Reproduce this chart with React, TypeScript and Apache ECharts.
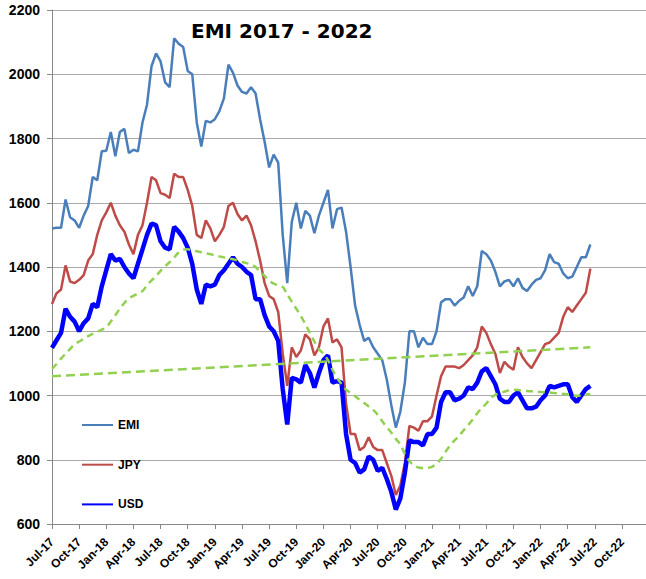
import React, { useEffect, useRef } from 'react';
import * as echarts from 'echarts';

// Sampling: one value every half month, starting July 2017
const START_YEAR = 2017;
const START_MONTH = 6; // 0-based (July)
const STEP_MONTHS = 0.5;
const monthNames = ['Jan', 'Feb', 'Mar', 'Apr', 'May', 'Jun', 'Jul', 'Aug', 'Sep', 'Oct', 'Nov', 'Dec'];

const emi = [
  1520, 1522, 1522, 1610, 1555, 1545, 1522, 1560, 1590, 1680,
  1670, 1760, 1762, 1820, 1745, 1820, 1830, 1755, 1765, 1760,
  1850, 1905, 2025, 2065, 2040, 1975, 1960, 2112, 2095, 2085,
  2010, 2000, 1850, 1775, 1855, 1850, 1860, 1885, 1925, 2030,
  2005, 1965, 1945, 1940, 1960, 1940, 1860, 1790, 1710, 1750,
  1725, 1500, 1350, 1540, 1600, 1520, 1575, 1560, 1505, 1560,
  1600, 1640, 1520, 1580, 1585, 1510, 1400, 1280, 1220, 1170,
  1180, 1150, 1130, 1110, 1050, 970, 900, 950, 1040, 1200,
  1200, 1150, 1180, 1160, 1160, 1200, 1290, 1300, 1300, 1280,
  1295, 1305, 1340, 1310, 1340, 1450, 1440, 1420, 1385, 1340,
  1355, 1360, 1340, 1365, 1335, 1325, 1345, 1360, 1365, 1390,
  1440, 1415, 1410, 1380, 1365, 1370, 1400, 1430, 1430, 1470,
];

const jpy = [
  1285, 1318, 1330, 1405, 1355, 1350, 1360, 1375, 1420, 1440,
  1500, 1545, 1570, 1600, 1560, 1530, 1510, 1470, 1440, 1500,
  1530, 1600, 1680, 1670, 1630, 1625, 1615, 1690, 1680, 1680,
  1640, 1590, 1500, 1490, 1545, 1520, 1480, 1500, 1525, 1590,
  1600, 1565, 1545, 1560, 1530, 1480, 1420, 1350, 1310, 1300,
  1260, 1130, 1030, 1150, 1120, 1140, 1190, 1175, 1125, 1150,
  1215, 1240, 1165, 1175, 1150, 975, 880, 880, 830, 840,
  870, 840, 830, 830, 790, 750, 690, 720, 790, 905,
  900, 890, 920, 920, 935, 1000, 1060, 1090, 1090, 1090,
  1085, 1095, 1110, 1125, 1150, 1215, 1195, 1160, 1130, 1070,
  1105, 1090, 1080, 1150, 1120, 1100, 1085, 1110, 1135, 1160,
  1165, 1180, 1195, 1245, 1275, 1260, 1280, 1300, 1320, 1395,
];

const usd = [
  1148, 1172, 1195, 1270, 1245, 1230, 1200, 1225, 1240, 1285,
  1275, 1340, 1390, 1440, 1420, 1425, 1400, 1380, 1365, 1410,
  1455, 1500, 1535, 1530, 1480, 1460, 1455, 1525, 1510, 1490,
  1460, 1410, 1330, 1285, 1345, 1340, 1345, 1375, 1390, 1410,
  1430, 1410, 1400, 1385, 1375, 1300, 1300, 1250, 1215, 1200,
  1170, 1020, 910, 1055, 1050, 1040, 1095, 1070, 1025, 1070,
  1110, 1125, 1040, 1045, 1040, 880, 800, 790, 760, 770,
  810, 800, 765, 775, 740, 700, 645, 680, 760, 860,
  855, 855, 845, 880, 880, 900, 980, 1010, 1010, 985,
  990, 1000, 1025, 1020, 1040, 1075, 1085, 1060, 1035, 990,
  980, 980, 1000, 1010, 985, 960, 960, 965, 985, 1000,
  1030, 1025, 1030, 1035, 1035, 995, 980, 1000, 1020, 1030,
];

// moving average (green dashed curve)
const usdAvg = [
  1083, 1098, 1115, 1130, 1145, 1160, 1168, 1176, 1185, 1192,
  1198, 1205, 1212, 1230, 1250, 1270, 1288, 1303, 1310, 1318,
  1325, 1343, 1358, 1372, 1388, 1402, 1415, 1430, 1445, 1454,
  1455, 1452, 1449, 1446, 1443, 1440, 1436, 1433, 1430, 1427,
  1424, 1420, 1416, 1412, 1408, 1400, 1385, 1372, 1358, 1348,
  1343, 1338, 1315, 1292, 1270, 1248, 1222, 1195, 1168, 1145,
  1130, 1110, 1080, 1055, 1035, 1018, 1008, 998, 987, 977,
  966, 955, 940, 920, 902, 885, 865, 848, 818, 796,
  782, 776, 774, 775, 778, 788, 803, 825, 845, 860,
  875, 892, 908, 925, 945, 960, 975, 993, 1002, 1008,
  1012, 1016, 1018, 1017, 1015, 1014, 1013, 1012, 1011, 1010,
  1009, 1008, 1006, 1005, 1004, 1001, 999, 1000, 1003, 1005,
];

// linear trend line: start and end values
const trend = [1060, 1150];

const yTicks = { min: 600, max: 2200, step: 200 };

const toPairs = (arr: number[]) => arr.map((v, i) => [i * STEP_MONTHS, v]);

function monthLabel(m: number): string {
  const total = START_MONTH + m;
  const name = monthNames[((total % 12) + 12) % 12];
  const yy = (START_YEAR + Math.floor(total / 12)) % 100;
  return `${name}-${yy < 10 ? '0' + yy : yy}`;
}

const LABEL_FONT = 'Liberation Sans, Arial, sans-serif';

export default function App() {
  const ref = useRef<HTMLDivElement>(null);

  useEffect(() => {
    if (!ref.current) return;
    const chart = echarts.init(ref.current, undefined, { renderer: 'svg' });
    const lastX = (emi.length - 1) * STEP_MONTHS;
    chart.setOption({
      animation: false,
      backgroundColor: '#ffffff',
      title: {
        text: 'EMI 2017 - 2022',
        left: 191,
        top: 21,
        padding: 0,
        textStyle: { fontFamily: 'DejaVu Sans', fontWeight: 'bold', fontSize: 20, color: '#000' },
      },
      legend: {
        data: ['EMI', 'JPY', 'USD'],
        orient: 'vertical',
        left: 81,
        top: 419,
        padding: 0,
        itemWidth: 31,
        itemHeight: 14,
        itemGap: 27.7,
        itemStyle: { opacity: 0 },
        textStyle: { fontFamily: LABEL_FONT, fontWeight: 'bold', fontSize: 12, color: '#000' },
      },
      grid: { left: 52, right: 0, top: 10, bottom: 55, containLabel: false, outerBoundsMode: 'none' },
      xAxis: {
        type: 'value',
        min: 0,
        max: 65.65,
        interval: 3,
        axisLine: { show: true, onZero: false, lineStyle: { color: '#888888', width: 1 } },
        axisTick: { show: true, length: 5, lineStyle: { color: '#888888' } },
        splitLine: { show: false },
        axisLabel: {
          rotate: 45,
          margin: 16,
          fontFamily: LABEL_FONT,
          fontWeight: 'bold',
          fontSize: 12,
          color: '#000',
          showMaxLabel: false,
          formatter: (v: number) => (Math.abs(v % 3) < 1e-6 ? monthLabel(Math.round(v)) : ''),
        },
      },
      yAxis: {
        type: 'value',
        min: yTicks.min,
        max: yTicks.max,
        interval: yTicks.step,
        axisLine: { show: true, onZero: false, lineStyle: { color: '#888888', width: 1 } },
        axisTick: { show: true, length: 5, lineStyle: { color: '#888888' } },
        splitLine: { show: true, lineStyle: { color: '#AAAAAA', width: 1 } },
        axisLabel: {
          margin: 12,
          fontFamily: LABEL_FONT,
          fontWeight: 'bold',
          fontSize: 14,
          color: '#000',
          formatter: (v: number) => String(v),
        },
      },
      series: [
        {
          name: 'EMI',
          type: 'line',
          data: toPairs(emi),
          symbol: 'none',
          showSymbol: false,
          lineStyle: { color: '#4A7EBB', width: 2.5 },
          itemStyle: { color: '#4A7EBB' },
        },
        {
          name: 'JPY',
          type: 'line',
          data: toPairs(jpy),
          symbol: 'none',
          showSymbol: false,
          lineStyle: { color: '#BE4B48', width: 2.5 },
          itemStyle: { color: '#BE4B48' },
        },
        {
          name: 'USD',
          type: 'line',
          data: toPairs(usd),
          symbol: 'none',
          showSymbol: false,
          lineStyle: { color: '#0000FF', width: 4.5 },
          itemStyle: { color: '#0000FF' },
        },
        {
          name: 'USD average',
          type: 'line',
          data: toPairs(usdAvg),
          symbol: 'none',
          showSymbol: false,
          smooth: 0.3,
          lineStyle: { color: '#92D050', width: 2.5, type: [7, 5] },
          itemStyle: { color: '#92D050' },
        },
        {
          name: 'Trend',
          type: 'line',
          data: [[0, trend[0]], [lastX, trend[1]]],
          symbol: 'none',
          showSymbol: false,
          lineStyle: { color: '#92D050', width: 2.5, type: [9, 5] },
          itemStyle: { color: '#92D050' },
        },
      ],
    });
    return () => chart.dispose();
  }, []);

  return (
    <div
      ref={ref}
      style={{ position: 'fixed', left: 0, top: 0, width: 646, height: 579, background: '#fff' }}
    />
  );
}
